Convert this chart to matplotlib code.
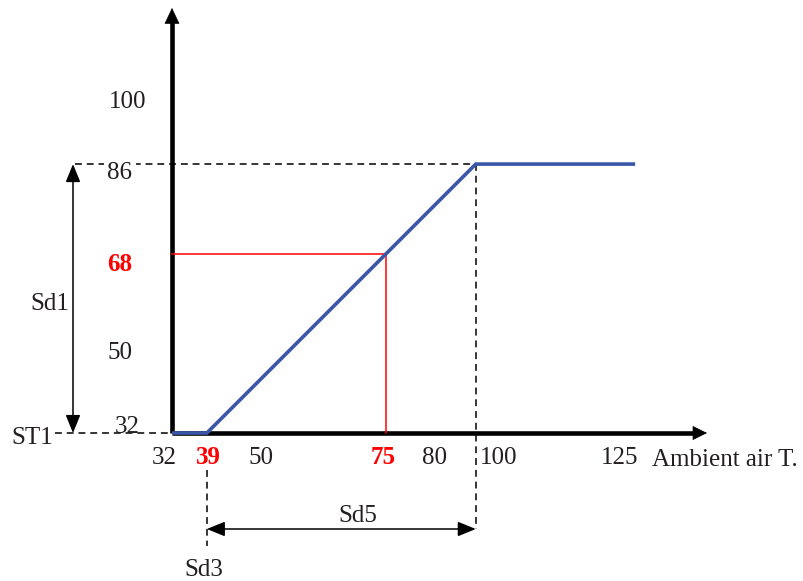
import matplotlib
matplotlib.use("Agg")
import matplotlib.pyplot as plt
from matplotlib.transforms import blended_transform_factory

# ---------------- data ----------------
ambient_x = [32, 39, 93, 125]          # ambient air T. break points
output_y = [32, 32, 86, 86]            # regulated value
setpoint_x = 75
setpoint_y = 68
x_tick_values = [32, 39, 50, 75, 80, 100, 125]
x_tick_labels = ["32", "39", "50", "75", "80", "100", "125"]
x_tick_red = [False, True, False, True, False, False, False]
y_tick_values = [100, 86, 68, 50, 32]
y_tick_labels = ["100", "86", "68", "50", "32"]
y_tick_red = [False, False, True, False, False]
st1_value = 32
sd1_top = 86
sd3_value = 39
sd5_end = 93

# ---------------- layout ----------------
W, H = 804, 581
SCALE = 4.98                      # pixels per unit
ORIGIN_PX = (172, 433)            # pixel position of (32, 32)
x0 = 32 - ORIGIN_PX[0] / SCALE
x1 = x0 + W / SCALE
y1 = 32 + ORIGIN_PX[1] / SCALE
y0 = y1 - H / SCALE

def px_x(p):
    return x0 + p / SCALE

def px_y(p):
    return y1 - p / SCALE

PT = 0.72  # points per pixel at dpi 100
FONT = "Liberation Serif"
FS = 18
BLUE = "#3A57A7"
RED = "#FF0000"
TXT = "#231F20"

fig = plt.figure(figsize=(W / 100, H / 100), dpi=100)
ax = fig.add_axes([0, 0, 1, 1])
ax.set_xlim(x0, x1)
ax.set_ylim(y0, y1)
ax.axis("off")

# ---------------- axes arrows ----------------
axis_lw = 3.3
ax.plot([32, 32], [32, px_y(22)], color="black", lw=axis_lw, solid_capstyle="butt", zorder=3)
ax.plot([32, px_x(694)], [32, 32], color="black", lw=axis_lw, solid_capstyle="butt", zorder=3)
ax.annotate("", xy=(32, px_y(8)), xytext=(32, px_y(24)),
            arrowprops=dict(arrowstyle="-|>,head_length=1.05,head_width=0.5",
                            lw=0.5, color="black", shrinkA=0, shrinkB=0, mutation_scale=10),
            zorder=4)
ax.annotate("", xy=(px_x(707), 32), xytext=(px_x(690), 32),
            arrowprops=dict(arrowstyle="-|>,head_length=0.95,head_width=0.47",
                            lw=0.5, color="black", shrinkA=0, shrinkB=0, mutation_scale=10),
            zorder=4)

# ---------------- dashed guides ----------------
dash = dict(color="black", lw=1.1, linestyle=(0, (4.5, 3.2)), zorder=2)
ax.plot([px_x(75), sd5_end], [sd1_top, sd1_top], **dash)
ax.plot([px_x(55), 32], [st1_value, st1_value], **dash)
ax.plot([sd5_end, sd5_end], [sd1_top, px_y(529)], **dash)
ax.plot([sd3_value, sd3_value], [px_y(470), px_y(546)], **dash)

# ---------------- red setpoint lines ----------------
ax.plot([32, setpoint_x], [setpoint_y, setpoint_y], color=RED, lw=1.1, zorder=4)
ax.plot([setpoint_x, setpoint_x], [setpoint_y, 32], color=RED, lw=1.1, zorder=4)

# ---------------- blue characteristic ----------------
ax.plot(ambient_x, output_y, color=BLUE, lw=2.6, solid_capstyle="butt",
        solid_joinstyle="miter", zorder=5)

# ---------------- double arrows ----------------
xb = blended_transform_factory(ax.transAxes, ax.transData)
ax.annotate("", xy=(73 / W, st1_value), xytext=(73 / W, sd1_top),
            xycoords=xb, textcoords=xb,
            arrowprops=dict(arrowstyle="<|-|>,head_length=1.1,head_width=0.45",
                            lw=1.1, color="black", shrinkA=0, shrinkB=0, mutation_scale=10))
yb = blended_transform_factory(ax.transData, ax.transAxes)
ax.annotate("", xy=(sd3_value, (H - 529) / H), xytext=(sd5_end, (H - 529) / H),
            xycoords=yb, textcoords=yb,
            arrowprops=dict(arrowstyle="<|-|>,head_length=1.1,head_width=0.45",
                            lw=1.1, color="black", shrinkA=0, shrinkB=0, mutation_scale=10))

# ---------------- tick labels ----------------
x_nudge_px = [-8, 2, -1, -3, 23, -12, -16]
for v, lab, red, dx in zip(x_tick_values, x_tick_labels, x_tick_red, x_nudge_px):
    ax.annotate(lab, xy=(v, 32), xytext=(dx * PT, -25 * PT), textcoords="offset points",
                ha="center", va="center", fontsize=FS, family=FONT,
                color=RED if red else TXT, fontweight="bold" if red else "normal")

y_label_cx = [128, 120, 120, 120, 127]
y_nudge_px = [8, 9, 11, 10, -6]
for v, lab, red, cx, dy in zip(y_tick_values, y_tick_labels, y_tick_red, y_label_cx, y_nudge_px):
    bbox = dict(boxstyle="square,pad=0.15", fc="white", ec="none") if v == sd1_top else None
    ax.annotate(lab, xy=(px_x(cx), v), xytext=(0, -dy * PT), textcoords="offset points",
                ha="center", va="center", fontsize=FS, family=FONT, bbox=bbox, zorder=6,
                color=RED if red else TXT, fontweight="bold" if red else "normal")

# ---------------- other labels ----------------
ax.text(px_x(652), px_y(460), "Ambient air T.", ha="left", va="center", fontsize=FS,
        family=FONT, color=TXT)
ax.text(px_x(32), px_y(438), "ST1", ha="center", va="center", fontsize=FS, family=FONT, color=TXT)
ax.text(px_x(50), px_y(304), "Sd1", ha="center", va="center", fontsize=FS, family=FONT, color=TXT)
ax.text(px_x(358), px_y(516), "Sd5", ha="center", va="center", fontsize=FS, family=FONT, color=TXT)
ax.text(px_x(204), px_y(570), "Sd3", ha="center", va="center", fontsize=FS, family=FONT, color=TXT)

fig.savefig("out.png", dpi=100)
